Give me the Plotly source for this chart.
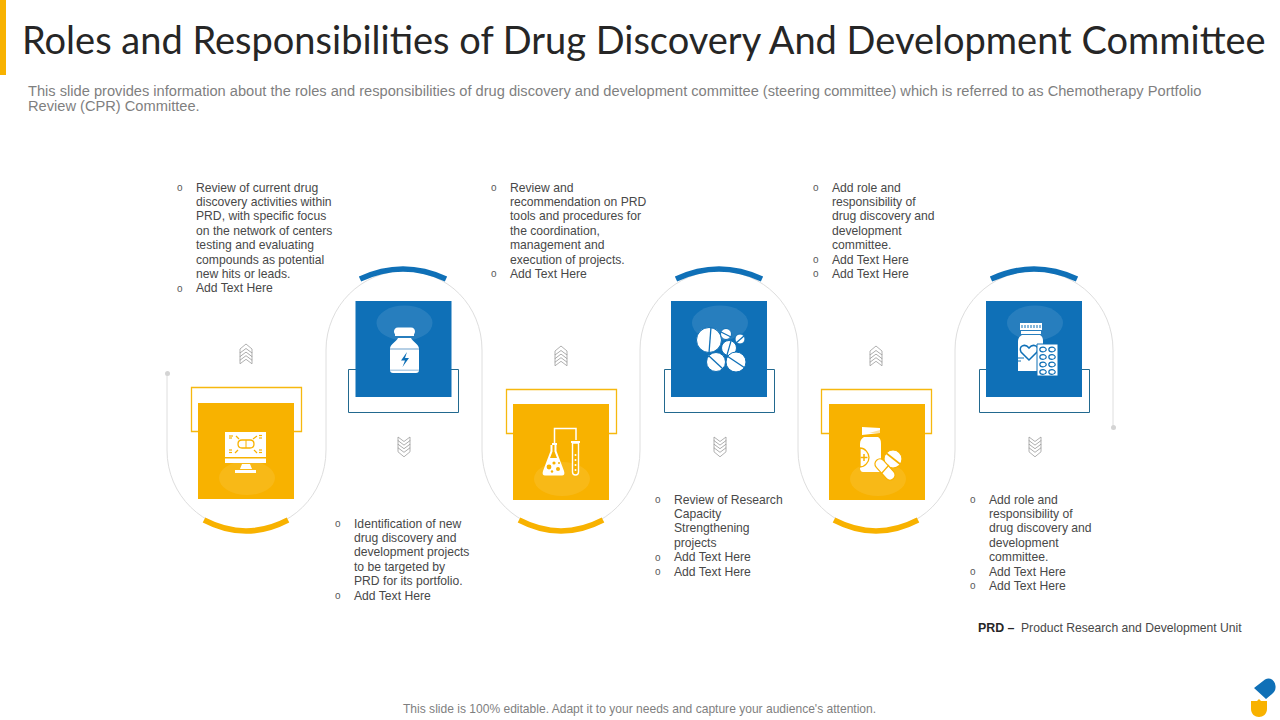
import plotly.graph_objects as go

YELLOW = "#F8B200"
BLUE = "#0F70B7"
LINE_GRAY = "#DEDEDE"
TEXT_DARK = "#484848"
TEXT_GRAY = "#7F7F7F"

title_text = "Roles and Responsibilities of Drug Discovery And Development Committee"
subtitle_lines = [
    "This slide provides information about the roles and responsibilities of drug discovery and development committee (steering committee) which is referred to as Chemotherapy Portfolio",
    "Review (CPR) Committee.",
]
footer_text = "This slide is 100% editable. Adapt it to your needs and capture your audience's attention."
note_label = "PRD –"
note_text = "Product Research and Development Unit"

# each item is a bullet, wrapped the way the slide wraps it
block_1 = [["Review of current drug", "discovery activities within", "PRD, with specific focus", "on the network of centers",
            "testing and evaluating", "compounds as potential", "new hits or leads."], ["Add Text Here"]]
block_2 = [["Identification of new", "drug discovery and", "development projects", "to be targeted by",
            "PRD for its portfolio."], ["Add Text Here"]]
block_3 = [["Review and", "recommendation on PRD", "tools and procedures for", "the coordination,",
            "management and", "execution of projects."], ["Add Text Here"]]
block_4 = [["Review of Research", "Capacity", "Strengthening", "projects"], ["Add Text Here"], ["Add Text Here"]]
block_5 = [["Add role and", "responsibility of", "drug discovery and", "development", "committee."],
           ["Add Text Here"], ["Add Text Here"]]
block_6 = [["Add role and", "responsibility of", "drug discovery and", "development", "committee."],
           ["Add Text Here"], ["Add Text Here"]]

fig = go.Figure()


def shape_path(path, fill="rgba(0,0,0,0)", color=None, width=0):
    fig.add_shape(type="path", path=path, fillcolor=fill, line=dict(color=color or "rgba(0,0,0,0)", width=width))


def rect(x0, y0, x1, y1, fill="rgba(0,0,0,0)", color=None, width=0):
    fig.add_shape(type="rect", x0=x0, y0=y0, x1=x1, y1=y1, fillcolor=fill,
                  line=dict(color=color or "rgba(0,0,0,0)", width=width))


def ellipse(cx, cy, rx, ry, fill="white", color=None, width=0):
    fig.add_shape(type="circle", x0=cx - rx, y0=cy - ry, x1=cx + rx, y1=cy + ry, fillcolor=fill,
                  line=dict(color=color or "rgba(0,0,0,0)", width=width))


def seg(x0, y0, x1, y1, color, width=1):
    fig.add_shape(type="line", x0=x0, y0=y0, x1=x1, y1=y1, line=dict(color=color, width=width))


def capsule(x0, y0, x1, y1, r, fill, color, width):
    dx, dy = x1 - x0, y1 - y0
    n = (dx * dx + dy * dy) ** 0.5
    ux, uy = dx / n, dy / n
    px, py = -uy * r, ux * r
    k = 1.33 * r
    path = (f"M {x0+px},{y0+py} L {x1+px},{y1+py} "
            f"C {x1+px+ux*k},{y1+py+uy*k} {x1-px+ux*k},{y1-py+uy*k} {x1-px},{y1-py} "
            f"L {x0-px},{y0-py} "
            f"C {x0-px-ux*k},{y0-py-uy*k} {x0+px-ux*k},{y0+py-uy*k} {x0+px},{y0+py} Z")
    shape_path(path, fill, color, width)


def text(x, y, s, size=12.15, color=TEXT_DARK, anchor="left", family="Liberation Sans"):
    fig.add_annotation(x=x, y=y, text=s, showarrow=False, xanchor=anchor, yanchor="middle",
                       font=dict(size=size, color=color, family=family), borderpad=0, borderwidth=0)


def bullets(block, x, y):
    for item in block:
        text(x - 19, y, "o", size=10, color="#595959")
        for line in item:
            text(x, y, line)
            y += 14.4


def chevrons(cx, top, up):
    # stacked outlined chevrons, drawn back to front
    for i in range(3, -1, -1) if up else range(4):
        t = top + i * 3.6
        if up:
            p = f"M {cx-6},{t+5} L {cx},{t} L {cx+6},{t+5} L {cx+6},{t+9} L {cx},{t+4.5} L {cx-6},{t+9} Z"
        else:
            p = f"M {cx-6},{t} L {cx},{t+4.5} L {cx+6},{t} L {cx+6},{t+4} L {cx},{t+9} L {cx-6},{t+4} Z"
        shape_path(p, "white", "#9C9C9C", 0.8)


# header bar
rect(0, 0, 6, 75, YELLOW)

# the snake line that runs through all six steps
snake = "M 167,373 L 167,450 C 167,496 204,530 246,530 C 290,530 326,496 326,450 L 326,350"
snake += " C 326,306 362,271 404,271 C 448,271 482,306 482,350 L 482,450"
snake += " C 482,496 518,530 561,530 C 605,530 640,496 640,450 L 640,350"
snake += " C 640,306 676,271 719,271 C 763,271 798,306 798,350 L 798,450"
snake += " C 798,496 834,530 876,530 C 920,530 955,496 955,450 L 955,350"
snake += " C 955,306 991,271 1034,271 C 1078,271 1113,306 1113,350 L 1113,427"
shape_path(snake, color=LINE_GRAY, width=1)
ellipse(167.5, 373.5, 2.5, 2.5, "#D4D4D4")
ellipse(1113.5, 427.5, 2.5, 2.5, "#D4D4D4")

# yellow steps: x of square, y of square, x of outline, y of outline, x of arc
for sx, sy, ox, oy, ax in [(198, 403, 191.5, 387.5, 246), (513, 404, 506.5, 389.5, 561), (829, 404, 821.5, 389.5, 876)]:
    rect(ox, oy, ox + 110, oy + 44, "white", "#F6B80F", 1.3)
    rect(sx, sy, sx + 96, sy + 96, YELLOW)
    ellipse(sx + 49, sy + 75, 28, 17, "rgba(255,255,255,0.09)")
    shape_path(f"M {ax-42},{520} Q {ax},{542} {ax+42},{520}", color=YELLOW, width=5.5)
    chevrons(ax, 344 if ax == 246 else 346, True)

# blue steps
for sx, ox, ax in [(355.5, 348.5, 403), (671, 664.5, 719), (986, 979.5, 1034)]:
    rect(ox, 369.5, ox + 110, 412.5, "white", "#22698F", 1)
    rect(sx, 301, sx + 96, 397, BLUE)
    ellipse(sx + 49, 323, 28, 17.5, "rgba(255,255,255,0.1)")
    shape_path(f"M {ax-43},{279} Q {ax},{259} {ax+43},{279}", color=BLUE, width=5.5)
    chevrons(ax + 1, 437, False)

# icon 1: monitor with capsule
rect(225, 432, 266, 457, "white")
rect(225, 458.5, 266, 463, "white")
shape_path("M 242,464 L 250,464 L 252,469 L 240,469 Z", "white")
rect(235, 470, 256, 473, "white")
capsule(242, 444, 250, 444, 4, "white", YELLOW, 1.3)
seg(246, 440, 246, 448, YELLOW, 1)
for x0, y0, x1, y1 in [(229, 436, 233, 436), (229, 438, 232, 438), (236, 436, 239, 439), (253, 439, 257, 436),
                       (259, 435.5, 262, 435.5), (259, 438, 262, 438), (229, 450, 232, 450), (229, 452.5, 232, 452.5),
                       (235, 453, 238, 450), (254, 450, 257, 453), (259, 450, 262, 450), (259, 452.5, 262, 452.5)]:
    seg(x0, y0, x1, y1, YELLOW, 1.2)

# icon 2: bottle with bolt
capsule(398, 331.5, 411, 331.5, 4, "white", None, 0)
rect(395, 329, 414, 336, "white")
shape_path("M 390,349 C 390,344 396,342 398,338 L 411,338 C 413,342 419,344 419,349 L 419,370 C 419,372 418,373 416,373 L 393,373 C 391,373 390,372 390,370 Z", "white")
rect(390, 348, 419, 350, "#B5CFE5")
rect(390, 369.5, 419, 371, "#B5CFE5")
shape_path("M 407,352 L 401,360.5 L 405,360.5 L 402.5,367 L 409,358 L 405,358 Z", BLUE)

# icon 3: pile of pills
ellipse(709, 340, 12.5, 12.5, "white", BLUE, 1)
seg(711, 327, 709, 353, BLUE, 1.3)
ellipse(726, 334, 5.5, 5.5, "white", BLUE, 1)
seg(721, 332, 731, 337, BLUE, 1.2)
ellipse(740, 339, 5, 5, "white", BLUE, 1)
seg(736, 343, 744, 336, BLUE, 1.2)
ellipse(729, 348, 7.5, 7.5, "white", BLUE, 1)
seg(731, 341, 727, 355, BLUE, 1.2)
ellipse(716, 362, 9.5, 9.5, "white", BLUE, 1)
seg(709, 356, 723, 369, BLUE, 1.3)
ellipse(736, 362, 10, 10, "white", BLUE, 1)
seg(727, 356, 745, 368, BLUE, 1.3)

# icon 4: flask and test tube
shape_path("M 554.5,444 L 554.5,428.5 L 576,428.5 L 576,440", color="white", width=1.5)
shape_path("M 552,443 L 557,443 L 557,445 L 556.5,445 L 556.5,451 L 564,471 C 565,474 564,475.5 562,475.5 L 545,475.5 C 543,475.5 542,474 543,471 L 550.5,451 L 550.5,445 L 552,445 Z", "white")
shape_path("M 552.5,445 L 554.5,445 L 554.5,451.5 L 557,458 L 550,458 L 552.5,451.5 Z", YELLOW)
for cx, cy, r in [(549, 467, 2.4), (554, 463, 1.6), (558, 469, 2), (552, 471.5, 1.2), (559, 463, 1)]:
    ellipse(cx, cy, r, r, YELLOW)
rect(571, 441, 580, 443, "white")
shape_path("M 572.5,443 L 578.5,443 L 578.5,472 C 578.5,476 572.5,476 572.5,472 Z", YELLOW, "white", 1.4)
for cy in [455, 460, 465, 470]:
    ellipse(575.5, cy, 1, 1, "white")

# icon 5: bottle with round pill and capsule
shape_path("M 862,427 L 880,428 L 880,433 L 862,435 Z", "white")
shape_path("M 869,433 L 880,430 L 880,433 Z", "#FDE2A0")
shape_path("M 860,444 C 860,440 862,438 864,437 L 878,437 C 880,438 881,440 881,444 L 881,472 L 863,472 C 861,472 860,470 860,468 Z", "white")
shape_path("M 860,448 C 865,448 869,453 869,457.5 C 869,462 865,467 860,467 Z", "white", YELLOW, 1.3)
seg(864, 454, 864, 461, YELLOW, 1.5)
seg(860.5, 457.5, 867.5, 457.5, YELLOW, 1.5)
ellipse(893, 459, 9, 9, "white", YELLOW, 1.2)
seg(886, 453, 900, 464, YELLOW, 1.6)
capsule(880, 464, 890, 475, 5, "white", YELLOW, 1.2)
seg(881, 474, 889, 465, YELLOW, 1.2)

# icon 6: bottle and blister pack
rect(1020, 323, 1042, 330, "white")
for x in range(1022, 1042, 3):
    seg(x, 325, x, 328, BLUE, 1)
rect(1021, 331, 1041, 334, "white")
shape_path("M 1018,341 C 1018,338 1020,336 1022,335 L 1040,335 C 1042,336 1043,338 1043,341 L 1043,371 L 1018,371 Z", "white")
seg(1018, 358, 1024, 358, BLUE, 1)
seg(1018, 361, 1021, 361, BLUE, 1)
shape_path("M 1029,360 L 1021,352 C 1018,346 1025,343 1029,348 C 1033,343 1040,346 1037,352 Z", "white", BLUE, 1.5)
rect(1037, 344, 1058, 376, "white", BLUE, 1)
for oy in [349.5, 357, 364.5, 372]:
    ellipse(1043, oy, 3.2, 2.3, "white", BLUE, 1.2)
    ellipse(1052, oy, 3.2, 2.3, "white", BLUE, 1.2)

# logo
shape_path("M 1254,688 L 1265,679.5 C 1270,677 1275,680 1275.5,686 C 1276,690 1274,692 1272,694 L 1266,699 Z", BLUE)
shape_path("M 1251,701 L 1257,701 L 1259,699 L 1261,701 L 1267,701 L 1267,709 C 1267,714 1263,717 1259,717 C 1255,717 1251,714 1251,709 Z", YELLOW)

# texts
text(22, 38.5, title_text, size=38, color="#262626", family="Lato")
text(28, 90.5, subtitle_lines[0], size=14.65, color=TEXT_GRAY)
text(28, 106, subtitle_lines[1], size=14.65, color=TEXT_GRAY)
bullets(block_1, 196, 187.5)
bullets(block_2, 354, 523.5)
bullets(block_3, 510, 187.5)
bullets(block_4, 674, 499.5)
bullets(block_5, 832, 187.5)
bullets(block_6, 989, 499.5)
text(978, 627.5, f"<b>{note_label}</b>", size=12.4, color="#262626")
text(1021, 627.5, note_text)
text(639, 708.5, footer_text, size=12.05, color=TEXT_GRAY, anchor="center")

fig.update_layout(
    width=1280,
    height=720,
    margin=dict(l=0, r=0, t=0, b=0),
    paper_bgcolor="white",
    plot_bgcolor="white",
    showlegend=False,
    xaxis=dict(range=[0, 1280], visible=False, fixedrange=True),
    yaxis=dict(range=[720, 0], visible=False, fixedrange=True),
)

fig.write_html("out.html", config={"displayModeBar": False}, post_script="document.body.style.margin='0';")
